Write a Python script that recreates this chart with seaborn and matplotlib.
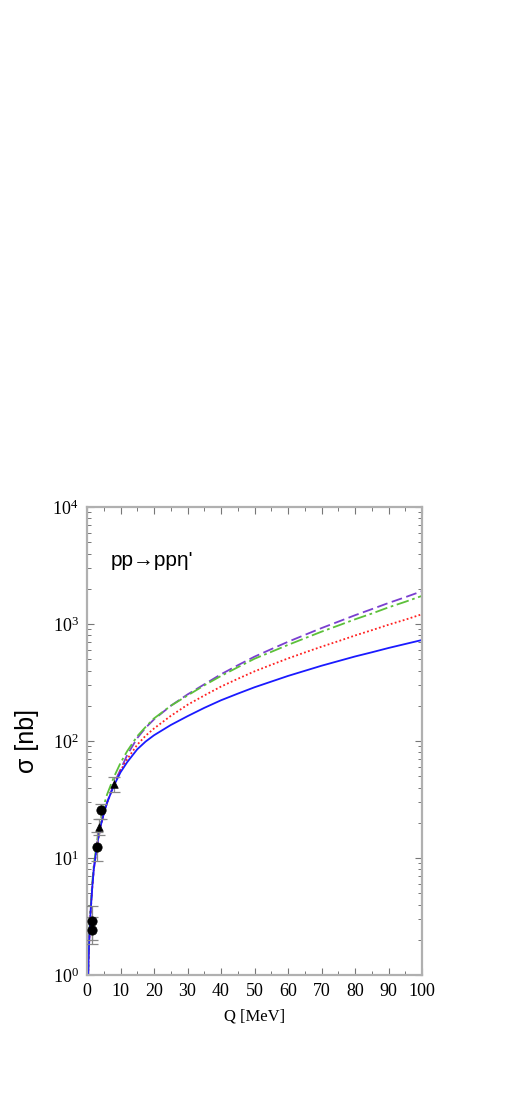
import numpy as np
import pandas as pd
import matplotlib
matplotlib.use("Agg")
import matplotlib.pyplot as plt
import seaborn as sns
from matplotlib.ticker import MultipleLocator, LogLocator

# ---- data ----
q_grid = [0.35, 0.5, 0.7, 1, 1.5, 2, 3, 4, 5, 6, 8, 10, 12, 15, 17.5, 20, 25, 30, 35, 40,
          45, 50, 55, 60, 65, 70, 75, 80, 85, 90, 95, 100]

sigma_blue = [1.0, 1.5, 2.1, 3.2, 5.3, 7.9, 13, 18.4, 24, 29.8, 41.5, 54, 66, 85, 99, 112, 137, 163, 192, 223,
              254, 288, 322, 360, 398, 440, 482, 528, 573, 624, 675, 730]
sigma_red = [1.0, 1.5, 2.1, 3.2, 5.3, 7.9, 13, 18.4, 24, 29.8, 42, 56, 70, 93, 111, 128, 164, 204, 245, 292,
             340, 394, 448, 508, 571, 640, 713, 798, 885, 986, 1089, 1213]
sigma_purple = [1.0, 1.5, 2.1, 3.2, 5.3, 7.9, 13, 18.4, 24, 29.8, 43, 57, 76, 106, 130, 153, 200, 250, 305, 372,
                444, 526, 610, 705, 807, 923, 1047, 1189, 1340, 1513, 1695, 1909]
sigma_green = [1.0, 1.6, 2.3, 3.5, 5.8, 8.6, 14, 21, 28, 35, 49, 65, 82, 110, 132, 156, 200, 245, 299, 360,
               427, 505, 578, 663, 755, 860, 970, 1097, 1228, 1388, 1549, 1740]

circ_q = [1.45, 1.55, 2.9, 4.1]
circ_sigma = [2.9, 2.45, 12.5, 25.5]
circ_err_lo = [0.9, 0.6, 3.0, 4.0]
circ_err_hi = [1.0, 0.7, 4.3, 3.5]

tri_q = [3.7, 8.2]
tri_sigma = [18.5, 43.0]
tri_err_lo = [2.7, 6.0]
tri_err_hi = [3.0, 6.5]

x_ticks = [0, 10, 20, 30, 40, 50, 60, 70, 80, 90, 100]
reaction_label = "pp\u2192pp\u03b7'"
x_label = "Q [MeV]"
y_label = "\u03c3 [nb]"

# ---- plotting ----
sns.set_style("ticks")
plt.rcParams['font.family'] = ['Liberation Serif', 'DejaVu Serif']
plt.rcParams['mathtext.fontset'] = 'stix'
plt.rcParams['text.color'] = 'black'
plt.rcParams['xtick.labelcolor'] = 'black'
plt.rcParams['ytick.labelcolor'] = 'black'
plt.rcParams['axes.labelcolor'] = 'black'

fig = plt.figure(figsize=(5.1, 11.0), dpi=100)
ax = fig.add_axes([0.1706, 0.1136, 0.657, 0.4255])

df = pd.DataFrame({
    "Q": q_grid * 4,
    "sigma": sigma_purple + sigma_green + sigma_red + sigma_blue,
    "model": ["purple"] * len(q_grid) + ["green"] * len(q_grid) + ["red"] * len(q_grid) + ["blue"] * len(q_grid),
})
palette = {"purple": "#7a3fd0", "green": "#5cc03a", "red": "#ff2020", "blue": "#1a1aff"}
dashes = {"purple": (6, 2.5), "green": (7, 2, 1.5, 2), "red": (1, 1.3), "blue": ""}
sns.lineplot(data=df, x="Q", y="sigma", hue="model", style="model", palette=palette,
             dashes=dashes, linewidth=1.3, legend=False, ax=ax, sort=False, estimator=None)

ax.errorbar(circ_q, circ_sigma, yerr=[circ_err_lo, circ_err_hi], fmt='none',
            ecolor='#888888', elinewidth=0.9, capsize=4, capthick=0.9, zorder=3)
ax.errorbar(tri_q, tri_sigma, yerr=[tri_err_lo, tri_err_hi], fmt='none',
            ecolor='#888888', elinewidth=0.9, capsize=4, capthick=0.9, zorder=3)
sns.scatterplot(x=circ_q, y=circ_sigma, marker='o', s=45, color='black', edgecolor='black', ax=ax, zorder=4)
sns.scatterplot(x=tri_q, y=tri_sigma, marker='^', s=30, color='black', edgecolor='black', ax=ax, zorder=4)

ax.set_yscale('log')
ax.set_xlim(0, 100)
ax.set_ylim(1, 1e4)
ax.set_xticks(x_ticks)
ax.xaxis.set_minor_locator(MultipleLocator(5))
ax.yaxis.set_major_locator(LogLocator(base=10, numticks=10))
ax.yaxis.set_minor_locator(LogLocator(base=10, subs=np.arange(2, 10), numticks=20))

for s in ax.spines.values():
    s.set_color('#b0b0b0')
    s.set_linewidth(1.6)
    s.set_visible(True)

ax.tick_params(which='both', direction='in', top=True, right=True, color='#777777')
ax.tick_params(which='major', length=5, width=0.8, labelsize=13, pad=6)
ax.tick_params(which='minor', length=3, width=0.7)
for lab in ax.get_xticklabels() + ax.get_yticklabels():
    lab.set_family('Liberation Serif')

ax.set_xlabel(x_label, fontsize=12, family='Liberation Serif', labelpad=6)
ax.set_ylabel(y_label, fontsize=18, family=['Liberation Sans', 'DejaVu Sans'], labelpad=10)

ax.text(0.07, 0.885, reaction_label, transform=ax.transAxes, fontsize=15,
        family=['Liberation Sans', 'DejaVu Sans'], ha='left', va='center')

fig.savefig("out.png", dpi=100, facecolor='white')
